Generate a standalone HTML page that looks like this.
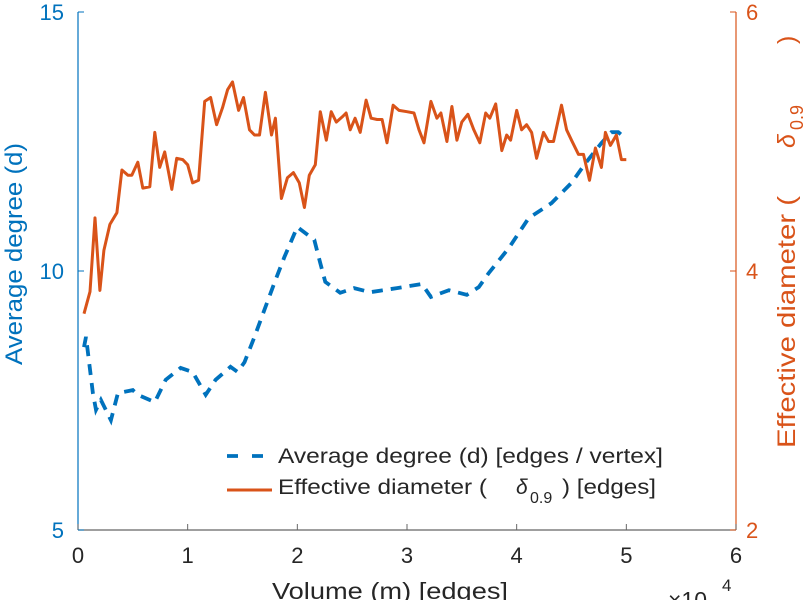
<!DOCTYPE html>
<html><head><meta charset="utf-8"><style>
body{margin:0;background:#fff}
svg{display:block;font-family:"Liberation Sans",sans-serif}
</style></head><body>
<svg id="chart" width="812" height="600" viewBox="0 0 812 600">
<g id="axes"></g><g id="series"></g>
</svg>
<script>
const xTicks=[0,1,2,3,4,5,6];
const leftTicks=[5,10,15];
const rightTicks=[2,4,6];
const orangeX=[.055,.109,.155,.2,.236,.291,.355,.4,.455,.491,.545,.591,.655,.7,.745,.791,.855,.9,.955,1.0,1.045,1.1,1.155,1.209,1.264,1.318,1.364,1.409,1.464,1.509,1.564,1.609,1.655,1.709,1.764,1.8,1.855,1.909,1.964,2.018,2.064,2.109,2.164,2.209,2.264,2.309,2.355,2.409,2.445,2.482,2.527,2.573,2.627,2.673,2.727,2.773,2.818,2.873,2.927,3.0,3.064,3.109,3.155,3.218,3.273,3.309,3.364,3.409,3.455,3.5,3.555,3.609,3.664,3.718,3.755,3.809,3.864,3.909,3.945,4.0,4.045,4.091,4.136,4.182,4.245,4.291,4.336,4.409,4.455,4.5,4.564,4.609,4.664,4.718,4.773,4.809,4.855,4.909,4.955,5.0];
const orangeY=[3.67,3.84,4.41,3.85,4.16,4.36,4.45,4.78,4.74,4.74,4.84,4.64,4.65,5.07,4.80,4.92,4.63,4.87,4.86,4.82,4.68,4.70,5.31,5.34,5.13,5.26,5.40,5.46,5.24,5.34,5.09,5.05,5.05,5.38,5.05,5.18,4.56,4.72,4.76,4.68,4.49,4.74,4.82,5.23,5.01,5.23,5.15,5.19,5.22,5.09,5.18,5.07,5.32,5.18,5.17,5.17,4.99,5.28,5.24,5.23,5.22,5.09,4.99,5.31,5.18,5.22,5.00,5.27,5.01,5.15,5.21,5.09,4.99,5.22,5.18,5.29,4.93,5.05,5.01,5.24,5.09,5.13,5.07,4.87,5.07,5.00,5.00,5.28,5.09,5.01,4.90,4.90,4.70,4.95,4.80,5.07,4.97,5.05,4.86,4.86];
const blueX=[.055,.073,.136,.164,.209,.3,.364,.5,.545,.7,.8,.936,1.045,1.164,1.255,1.391,1.455,1.518,1.609,1.7,1.791,1.882,2.0,2.155,2.209,2.255,2.391,2.518,2.664,2.909,3.136,3.218,3.382,3.545,3.655,3.745,3.927,4.109,4.318,4.5,4.627,4.773,4.864,4.927,4.955];
const blueY=[8.53,8.73,7.64,7.32,7.51,7.12,7.64,7.70,7.61,7.47,7.90,8.13,8.05,7.61,7.90,8.15,8.05,8.24,8.73,9.25,9.77,10.27,10.85,10.60,10.15,9.79,9.58,9.67,9.59,9.67,9.75,9.50,9.63,9.54,9.69,9.96,10.44,11.02,11.31,11.70,12.08,12.47,12.68,12.68,12.63];
const X0=78,X1=736,YT=12,YB=530;
const sx=v=>X0+(v/6)*(X1-X0);
const syL=v=>YB-(v-5)/10*(YB-YT);
const syR=v=>YB-(v-2)/4*(YB-YT);
const NS='http://www.w3.org/2000/svg';
function mk(tag,attrs,parent,text){const e=document.createElementNS(NS,tag);for(const k in attrs)e.setAttribute(k,attrs[k]);if(text!==undefined)e.textContent=text;parent.appendChild(e);return e;}
const ax=document.getElementById('axes'),se=document.getElementById('series');
const BLUE='#0072BD',ORG='#D95319',GR='#262626';
let el;
el=mk('line',{x1:X0,y1:YB,x2:X1,y2:YB,stroke:'#666','stroke-width':1.2},ax);

el=mk('line',{x1:X0,y1:YT,x2:X0,y2:YB,stroke:BLUE,'stroke-width':1.2},ax);

el=mk('line',{x1:X1,y1:YT,x2:X1,y2:YB,stroke:ORG,'stroke-width':1.2},ax);

xTicks.forEach(t=>{
 el=mk('line',{x1:sx(t),y1:YB,x2:sx(t),y2:YB-6,stroke:'#666'},ax);
 
 el=mk('text',{x:sx(t),y:YB+33,'text-anchor':'middle','font-size':22,fill:GR},ax,String(t));
 
});
leftTicks.forEach(t=>{
 el=mk('line',{x1:X0,y1:syL(t),x2:X0+6,y2:syL(t),stroke:BLUE},ax);
 
 el=mk('text',{x:X0-14,y:syL(t)+8,'text-anchor':'end','font-size':22,fill:BLUE},ax,String(t));
 
});
rightTicks.forEach(t=>{
 el=mk('line',{x1:X1,y1:syR(t),x2:X1-6,y2:syR(t),stroke:ORG},ax);
 
 el=mk('text',{x:X1+10,y:syR(t)+8,'text-anchor':'start','font-size':22,fill:ORG},ax,String(t));
 
});
el=mk('text',{x:272,y:599,'font-size':23,fill:GR,textLength:236,lengthAdjust:'spacingAndGlyphs'},ax,'Volume (m) [edges]');

el=mk('text',{x:668,y:608,'font-size':23,fill:GR},ax,'×10');

el=mk('text',{x:722,y:591,'font-size':17,fill:GR},ax,'4');

el=mk('text',{x:0,y:0,'font-size':24,fill:BLUE,textLength:222,lengthAdjust:'spacingAndGlyphs',transform:'translate(22,365) rotate(-90)'},ax,'Average degree (d)');

const rt=mk('g',{transform:'translate(795,448) rotate(-90)',fill:ORG},ax);

el=mk('text',{x:0,y:0,'font-size':25,textLength:252,lengthAdjust:'spacingAndGlyphs'},rt,'Effective diameter (');

el=mk('text',{x:300,y:0,'font-size':25,'font-style':'italic'},rt,'δ');

el=mk('text',{x:318,y:8,'font-size':18},rt,'0.9');

el=mk('text',{x:404,y:0,'font-size':25},rt,')');

function pts(xs,ys,fy){return xs.map((x,i)=>sx(x).toFixed(1)+','+fy(ys[i]).toFixed(1)).join(' ');}
el=mk('polyline',{points:pts(blueX,blueY,syL),fill:'none',stroke:BLUE,'stroke-width':3.8,'stroke-dasharray':'11,8'},se);

el=mk('polyline',{points:pts(orangeX,orangeY,syR),fill:'none',stroke:ORG,'stroke-width':3,'stroke-linejoin':'round'},se);

const lg=mk('g',{},se);

el=mk('line',{x1:227,y1:456,x2:266,y2:456,stroke:BLUE,'stroke-width':3.8,'stroke-dasharray':'11,14'},lg);

el=mk('text',{x:278,y:463,'font-size':21,fill:GR,textLength:385,lengthAdjust:'spacingAndGlyphs'},lg,'Average degree (d) [edges / vertex]');

el=mk('line',{x1:227,y1:490,x2:272,y2:490,stroke:ORG,'stroke-width':3},lg);

const le=mk('g',{fill:GR,'font-size':21},lg);

el=mk('text',{x:278,y:494,textLength:209,lengthAdjust:'spacingAndGlyphs'},le,'Effective diameter (');

el=mk('text',{x:516,y:494,'font-style':'italic'},le,'δ');

el=mk('text',{x:530,y:503,'font-size':16},le,'0.9');

el=mk('text',{x:562,y:494,textLength:94,lengthAdjust:'spacingAndGlyphs'},le,') [edges]');

</script>
</body></html>
